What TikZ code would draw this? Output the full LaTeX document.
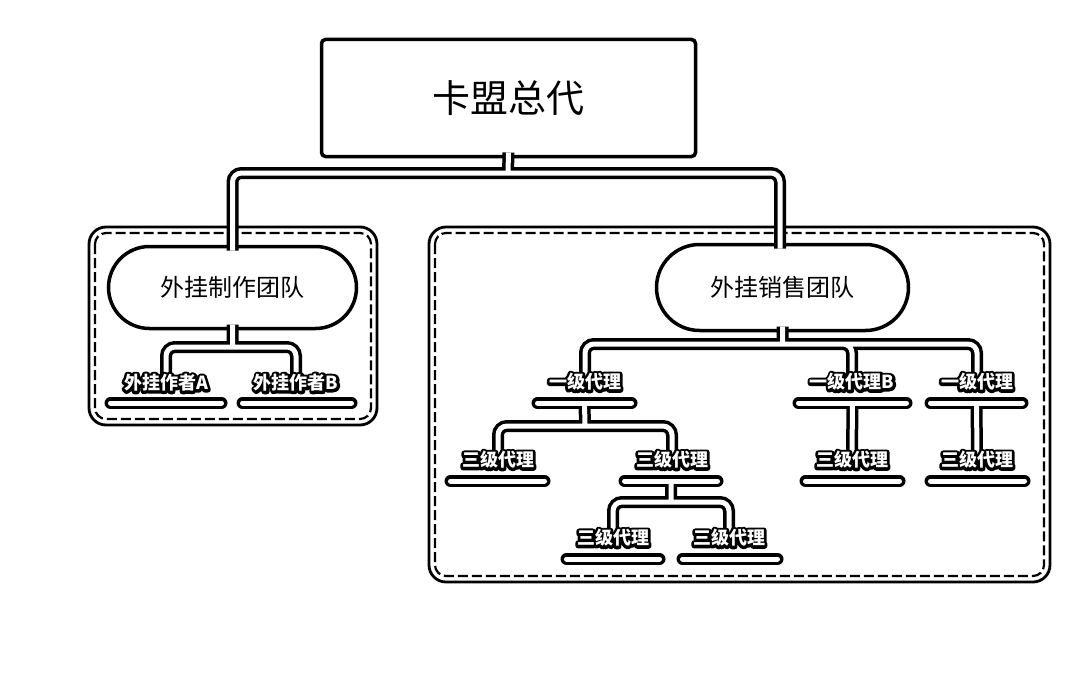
\documentclass[tikz,border=0pt]{standalone}
\usepackage{fontspec}
\setmainfont{Noto Sans CJK SC}
\usetikzlibrary{calc}

% white lettering on a thick black stroked copy of itself
\newcommand{\tagtext}[1]{%
  \makebox[0pt][l]{\special{pdf:literal direct 0 G 5.4 w 1 j 2 Tr}\textcolor{black}{#1}\special{pdf:literal direct 0 Tr}}#1}

\tikzset{
  every node/.style={inner sep=0pt, outer sep=0pt},
  topbox/.style={draw, line width=3.5pt, rounded corners=4pt, fill=white,
    minimum width=374pt, minimum height=117pt, font=\fontsize{38}{38}\selectfont},
  pillbox/.style={draw, line width=3.5pt, rounded corners=41pt, fill=white,
    minimum width=248pt, minimum height=82pt, font=\fontsize{24}{24}\selectfont},
  tag/.style={text=white, font=\bfseries\fontsize{18}{18}\selectfont},
  grpouter/.style={line width=2.8pt, rounded corners=17pt},
  grpinner/.style={line width=2.2pt, dash pattern=on 10pt off 4pt, rounded corners=11pt},
  wireout/.style={line width=12pt, black, rounded corners=9pt},
  wirein/.style={line width=5pt, white, rounded corners=9pt},
}

\begin{document}
\begin{tikzpicture}[x=1pt,y=-1pt]
\useasboundingbox (0,0) rectangle (1080,677);

% team groups: solid outline with a dashed inner rim
\draw[grpouter] (89,227) rectangle (377,425);
\draw[grpinner] (95,233) rectangle (371,419);
\draw[grpouter] (429,227) rectangle (1050,582);
\draw[grpinner] (435,233) rectangle (1044,576);

% main boxes
\node[topbox] (top) at (508.5,98) {卡盟总代};
\node[pillbox] (make) at (232.5,287.5) {外挂制作团队};
\node[pillbox, minimum width=252pt, minimum height=86pt, rounded corners=43pt] (sell) at (782.5,287.5) {外挂销售团队};

% junction points
\coordinate (hub0) at (508,173);
\coordinate (hubR) at (780,173);
\coordinate (hub1) at (232.5,347);
\coordinate (hub2) at (782.5,344);
\coordinate (hub3) at (585,426);
\coordinate (hub4) at (671,502);

% label anchors
\path
  (166,383) coordinate (wa)
  (296,383) coordinate (wb)
  (585,382) coordinate (g1a)
  (852,382) coordinate (g1b)
  (977,382) coordinate (g1c)
  (498,460) coordinate (g3a)
  (672,460) coordinate (g3b)
  (852,460) coordinate (g3e)
  (977,460) coordinate (g3f)
  (613,538) coordinate (g3c)
  (729,538) coordinate (g3d);

% underline bar centres
\path
  (166,403) coordinate (wa-u)
  (297,403) coordinate (wb-u)
  (584.5,403) coordinate (g1a-u)
  (852.5,403) coordinate (g1b-u)
  (976.5,403) coordinate (g1c-u)
  (497.5,481) coordinate (g3a-u)
  (671,481) coordinate (g3b-u)
  (852.5,481) coordinate (g3e-u)
  (977.5,481) coordinate (g3f-u)
  (613,559) coordinate (g3c-u)
  (730,559) coordinate (g3d-u);

\def\allbars{
  ($(wa-u)+(-55.5,0)$) -- ($(wa-u)+(55.5,0)$)
  ($(wb-u)+(-54.5,0)$) -- ($(wb-u)+(54.5,0)$)
  ($(g1a-u)+(-47,0)$) -- ($(g1a-u)+(47,0)$)
  ($(g1b-u)+(-54,0)$) -- ($(g1b-u)+(54,0)$)
  ($(g1c-u)+(-46,0)$) -- ($(g1c-u)+(46,0)$)
  ($(g3a-u)+(-47,0)$) -- ($(g3a-u)+(47,0)$)
  ($(g3b-u)+(-46.5,0)$) -- ($(g3b-u)+(46.5,0)$)
  ($(g3e-u)+(-47,0)$) -- ($(g3e-u)+(47,0)$)
  ($(g3f-u)+(-47,0)$) -- ($(g3f-u)+(47,0)$)
  ($(g3c-u)+(-46.5,0)$) -- ($(g3c-u)+(46.5,0)$)
  ($(g3d-u)+(-47.5,0)$) -- ($(g3d-u)+(47.5,0)$)
}

\def\allwires{
  % head office to both teams
  ($(top.south)+(0,-4)$) -- (hub0)
  ($(make.north)+(0,4)$) -- (make.north |- hub0) -- (hubR) -- ($(hubR |- sell.north)+(0,4)$)
  % production team
  ($(make.south)+(0,-4)$) -- (hub1)
  ($(wa)+(0,-6)$) -- (wa |- hub1) -- (wb |- hub1) -- ($(wb)+(0,-6)$)
  % sales team
  ($(sell.south)+(0,-4)$) -- (hub2)
  ($(g1a)+(0,-6)$) -- (g1a |- hub2) -- (g1c |- hub2) -- ($(g1c)+(0,-6)$)
  (hub2) -| ($(g1b)+(0,-6)$)
  % second tier
  (g1a-u) -- (hub3)
  ($(g3a)+(0,-6)$) -- (g3a |- hub3) -- (g3b |- hub3) -- ($(g3b)+(0,-6)$)
  (g1b-u) -- ($(g3e)+(0,-6)$)
  (g1c-u) -- ($(g3f)+(0,-6)$)
  % third tier
  (g3b-u) -- (hub4)
  ($(g3c)+(0,-6)$) -- (g3c |- hub4) -- (g3d |- hub4) -- ($(g3d)+(0,-6)$)
}

% hollow connectors: dark pass, then light pass so that junctions merge
\draw[wireout, line cap=round] \allbars;
\draw[wireout, line cap=butt] \allwires;
\draw[wirein, line cap=round] \allbars;
\draw[wirein, line cap=butt] \allwires;

% outlined labels
\node[tag] (wa-t) at (wa) {\tagtext{外挂作者A}};
\node[tag] (wb-t) at (wb) {\tagtext{外挂作者B}};
\node[tag] (g1a-t) at (g1a) {\tagtext{一级代理}};
\node[tag] (g1b-t) at (g1b) {\tagtext{一级代理B}};
\node[tag] (g1c-t) at (g1c) {\tagtext{一级代理}};
\node[tag] (g3a-t) at (g3a) {\tagtext{三级代理}};
\node[tag] (g3b-t) at (g3b) {\tagtext{三级代理}};
\node[tag] (g3e-t) at (g3e) {\tagtext{三级代理}};
\node[tag] (g3f-t) at (g3f) {\tagtext{三级代理}};
\node[tag] (g3c-t) at (g3c) {\tagtext{三级代理}};
\node[tag] (g3d-t) at (g3d) {\tagtext{三级代理}};
\end{tikzpicture}
\end{document}
